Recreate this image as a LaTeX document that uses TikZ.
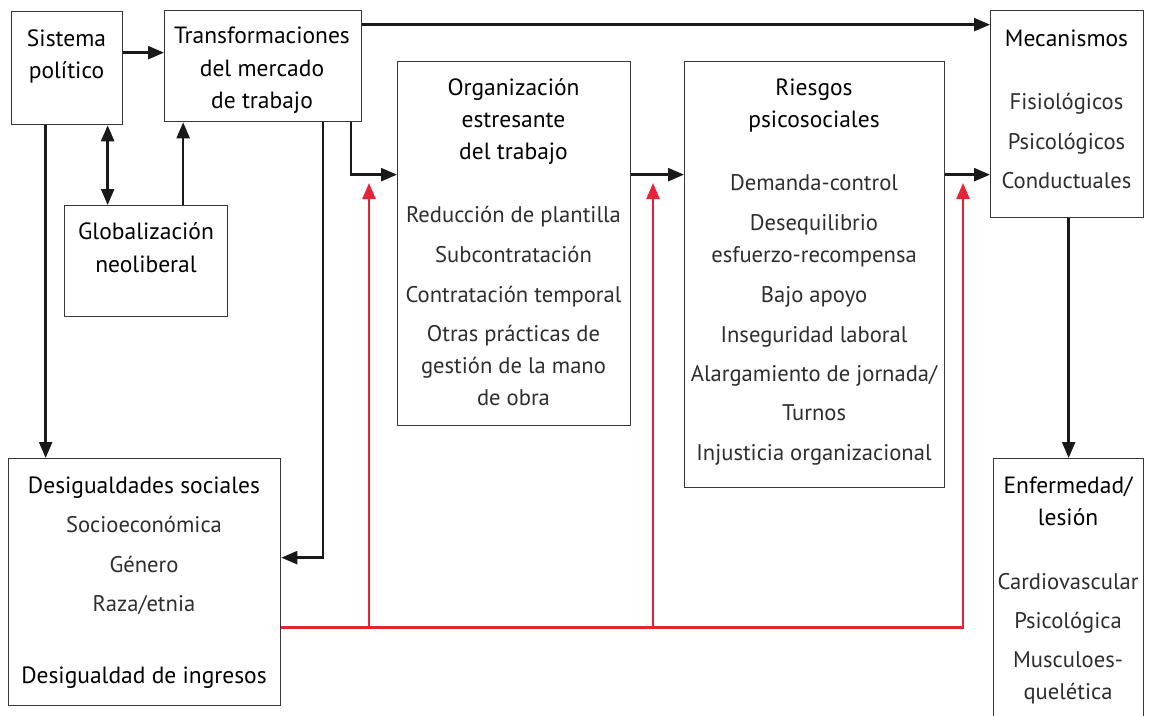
\documentclass[tikz,border=0pt]{standalone}
\usepackage{fontspec}
\setmainfont{PT Sans}
\usetikzlibrary{arrows.meta,calc}
\definecolor{redline}{RGB}{230,36,56}
\definecolor{boxline}{RGB}{55,55,55}
\begin{document}
\begin{tikzpicture}[x=1pt,y=-1pt,
  box/.style={draw=boxline,line width=1.3pt,rectangle,anchor=north west,inner sep=0pt},
  ttl/.style={anchor=base,inner sep=0pt,font=\fontsize{23.5}{28}\selectfont,text=black},
  itm/.style={anchor=base,inner sep=0pt,font=\fontsize{22.6}{28}\selectfont,text=black!82},
  arr/.style={line width=2.4pt,black!90,-{Triangle[length=16pt,width=13pt]}},
  darr/.style={line width=2.4pt,black!90,{Triangle[length=16pt,width=13pt]}-{Triangle[length=16pt,width=13pt]}},
  rarr/.style={line width=2.4pt,redline,-{Triangle[length=16pt,width=13pt]}}]
\useasboundingbox (0,0) rectangle (1155,715);
\fill[white] (0,0) rectangle (1155,715);
% boxes
\node[box,minimum width=111pt,minimum height=113pt] (sis) at (11,11) {};
\node[box,minimum width=197pt,minimum height=111pt] (tra) at (164,10) {};
\node[box,minimum width=163pt,minimum height=111pt] (glo) at (64,205) {};
\node[box,minimum width=233pt,minimum height=364pt] (org) at (397,61) {};
\node[box,minimum width=260pt,minimum height=426pt] (ris) at (684,61) {};
\node[box,minimum width=153pt,minimum height=207pt] (mec) at (990,10) {};
\node[box,minimum width=150pt,minimum height=280pt] (enf) at (993,458) {};
\node[box,minimum width=272pt,minimum height=247pt] (des) at (8,458) {};
% texts
\node[ttl] (sis1) at (66.5,46) {Sistema};
\node[ttl] (sis2) at (66.5,78) {político};
\node[ttl] (tra1) at (262,43) {Transformaciones};
\node[ttl] (tra2) at (262,76) {del mercado};
\node[ttl] (tra3) at (262,108) {de trabajo};
\node[ttl] (glo1) at (146,239) {Globalización};
\node[ttl] (glo2) at (146,272) {neoliberal};
\node[ttl] (org1) at (513.5,95) {Organización};
\node[ttl] (org2) at (513.5,127) {estresante};
\node[ttl] (org3) at (513.5,159) {del trabajo};
\node[itm] (org4) at (513.5,222) {Reducción de plantilla};
\node[itm] (org5) at (513.5,262) {Subcontratación};
\node[itm] (org6) at (513.5,302) {Contratación temporal};
\node[itm] (org7) at (513.5,341) {Otras prácticas de};
\node[itm] (org8) at (513.5,373) {gestión de la mano};
\node[itm] (org9) at (513.5,405) {de obra};
\node[ttl] (ris1) at (814,95) {Riesgos};
\node[ttl] (ris2) at (814,127) {psicosociales};
\node[itm] (ris3) at (814,190) {Demanda-control};
\node[itm] (ris4) at (814,230) {Desequilibrio};
\node[itm] (ris5) at (814,262) {esfuerzo-recompensa};
\node[itm] (ris6) at (814,302) {Bajo apoyo};
\node[itm] (ris7) at (814,342) {Inseguridad laboral};
\node[itm] (ris8) at (814,381) {Alargamiento de jornada/};
\node[itm] (ris9) at (814,420) {Turnos};
\node[itm] (ris10) at (814,460) {Injusticia organizacional};
\node[ttl] (mec1) at (1066.5,46) {Mecanismos};
\node[itm] (mec2) at (1066.5,109) {Fisiológicos};
\node[itm] (mec3) at (1066.5,149) {Psicológicos};
\node[itm] (mec4) at (1066.5,188) {Conductuales};
\node[ttl] (enf1) at (1068,493) {Enfermedad/};
\node[ttl] (enf2) at (1068,525) {lesión};
\node[itm] (enf3) at (1068,589) {Cardiovascular};
\node[itm] (enf4) at (1068,628) {Psicológica};
\node[itm] (enf5) at (1068,667) {Musculoes-};
\node[itm] (enf6) at (1068,699) {quelética};
\node[ttl] (des1) at (144,493) {Desigualdades sociales};
\node[itm] (des2) at (144,532) {Socioeconómica};
\node[itm] (des3) at (144,572) {Género};
\node[itm] (des4) at (144,611) {Raza/etnia};
\node[ttl] (des5) at (144,683) {Desigualdad de ingresos};
% black connectors
\draw[arr] ([yshift=15.5pt]sis.east) -- ([yshift=15.5pt]sis.east -| tra.west);
\draw[darr] ([xshift=40.5pt]sis.south) -- ([xshift=40.5pt]sis.south |- glo.north);
\draw[arr] ([xshift=37pt]glo.north) -- ([xshift=37pt]glo.north |- tra.south);
\draw[arr] ([xshift=-21.5pt]sis.south) -- ([xshift=-21.5pt]sis.south |- des.north);
\draw[arr] ([yshift=41.5pt]tra.east) -- ([yshift=41.5pt]tra.east -| mec.west);
\draw[arr] ([xshift=60pt]tra.south) |- ([yshift=24.5pt]des.east);
\draw[arr] ([xshift=88pt]tra.south) |- ([yshift=69pt]org.west);
\draw[arr] ([yshift=69pt]org.east) -- ([yshift=69pt]org.east -| ris.west);
\draw[arr] ([yshift=100pt]ris.east) -- ([yshift=100pt]ris.east -| mec.west);
\draw[arr] (mec.south -| enf.north) -- (enf.north);
% red connectors
\coordinate (rA) at (369,183);
\coordinate (rB) at (653,183);
\coordinate (rC) at (963,183);
\coordinate (r0) at ([yshift=-45.5pt]des.east);
\draw[rarr] (r0) -| (rC);
\draw[rarr] (r0 -| rA) -- (rA);
\draw[rarr] (r0 -| rB) -- (rB);
\end{tikzpicture}
\end{document}
